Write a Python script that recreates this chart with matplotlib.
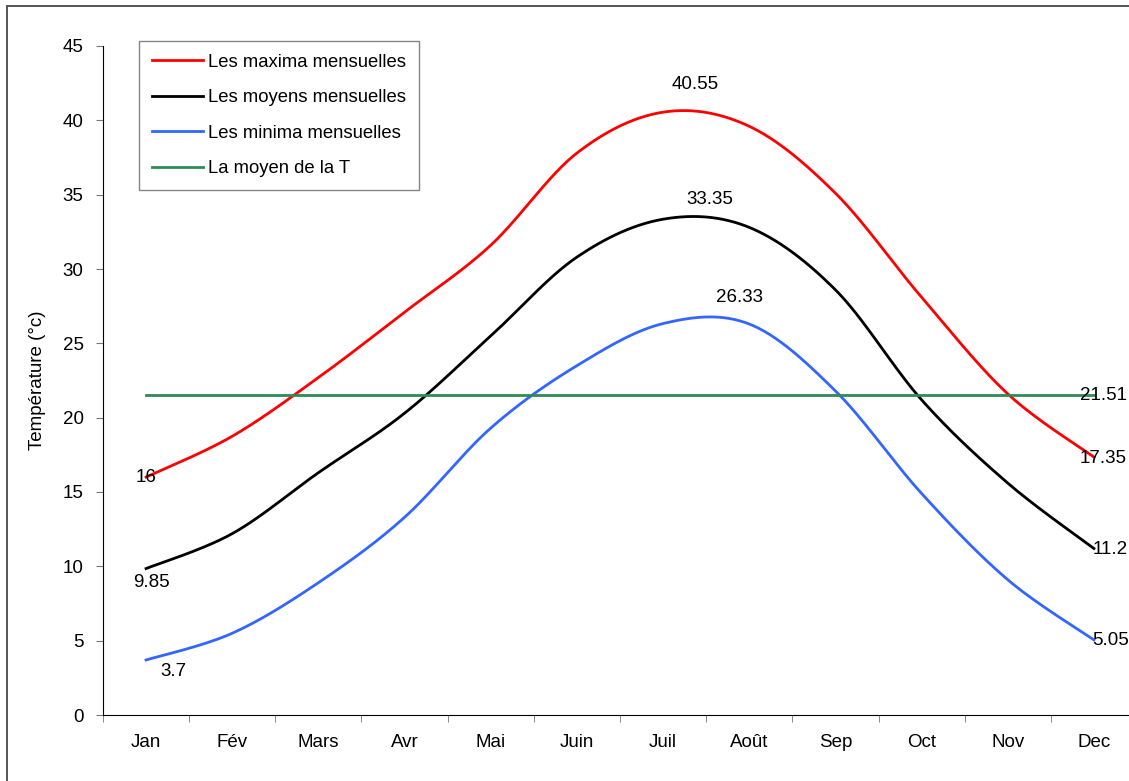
import numpy as np
import matplotlib.pyplot as plt
from matplotlib.patches import Rectangle

plt.rcParams['font.family'] = ['Liberation Sans', 'DejaVu Sans']

mois = ['Jan', 'Fév', 'Mars', 'Avr', 'Mai', 'Juin', 'Juil', 'Août', 'Sep', 'Oct', 'Nov', 'Dec']
t_max = [16, 18.75, 22.7, 27.1, 31.6, 37.8, 40.55, 39.6, 35.1, 28.1, 21.6, 17.35]
t_moy = [9.85, 12.2, 16.3, 20.3, 25.5, 30.8, 33.35, 32.8, 28.6, 21.2, 15.6, 11.2]
t_min = [3.7, 5.5, 8.9, 13.3, 19.3, 23.5, 26.33, 26.3, 21.8, 14.9, 9.1, 5.05]
t_annuelle = 21.51


def lisser(y, n=30):
    # courbe lissee facon Excel (bezier / catmull-rom)
    y = np.asarray(y, float)
    x = np.arange(len(y), dtype=float)
    px = np.concatenate([[x[0]], x, [x[-1]]])
    py = np.concatenate([[y[0]], y, [y[-1]]])
    xs, ys = [], []
    s = np.linspace(0, 1, n)
    for i in range(len(y) - 1):
        p0 = np.array([px[i + 1], py[i + 1]])
        p3 = np.array([px[i + 2], py[i + 2]])
        c1 = p0 + (np.array([px[i + 2], py[i + 2]]) - np.array([px[i], py[i]])) / 6
        c2 = p3 - (np.array([px[i + 3], py[i + 3]]) - np.array([px[i + 1], py[i + 1]])) / 6
        b = ((1 - s) ** 3)[:, None] * p0 + (3 * (1 - s) ** 2 * s)[:, None] * c1 \
            + (3 * (1 - s) * s ** 2)[:, None] * c2 + (s ** 3)[:, None] * p3
        xs.append(b[:, 0])
        ys.append(b[:, 1])
    return np.concatenate(xs), np.concatenate(ys)


fig = plt.figure(figsize=(11.29, 7.81), dpi=100)
fig.patches.append(Rectangle((7 / 1129, -0.1), 1.2, 0.1 + 775 / 781, transform=fig.transFigure,
                             fill=False, edgecolor='#555555', linewidth=1.4))
ax = fig.add_axes([103 / 1129, 66 / 781, 1034 / 1129, 669 / 781])

x = np.arange(len(mois))
xs, ys = lisser(t_max)
ax.plot(xs, ys, color='#ff0000', lw=2, label='Les maxima mensuelles')
xs, ys = lisser(t_moy)
ax.plot(xs, ys, color='black', lw=2, label='Les moyens mensuelles')
xs, ys = lisser(t_min)
ax.plot(xs, ys, color='#3366ff', lw=2, label='Les minima mensuelles')
ax.plot(x, [t_annuelle] * len(x), color='#2e8b57', lw=2, label='La moyen de la T')

ax.set_xlim(-0.5, len(mois) - 0.5)
ax.set_ylim(0, 45)
ax.set_yticks(range(0, 46, 5))
ax.set_xticks(x)
ax.set_xticklabels(mois, fontsize=13.5)
ax.set_xticks(np.arange(-0.5, len(mois), 1), minor=True)
ax.tick_params(axis='x', which='major', length=0, pad=14)
ax.tick_params(axis='x', which='minor', length=5, color='#777777')
ax.tick_params(axis='y', length=5, color='#777777', labelsize=13.5, pad=9)
ax.spines['top'].set_visible(False)
ax.spines['right'].set_visible(False)
ax.set_ylabel('Température (°c)', fontsize=13.5, labelpad=12)

# etiquettes des valeurs
fs = 13.5
ax.annotate('16', (0, t_max[0]), xytext=(0, 0), textcoords='offset pixels', ha='center', va='center', fontsize=fs)
ax.annotate('9.85', (0, t_moy[0]), xytext=(5, -14), textcoords='offset pixels', ha='center', va='center', fontsize=fs)
ax.annotate('3.7', (0, t_min[0]), xytext=(27, -12), textcoords='offset pixels', ha='center', va='center', fontsize=fs)
ax.annotate('40.55', (6, t_max[6]), xytext=(32, 28), textcoords='offset pixels', ha='center', va='center', fontsize=fs)
ax.annotate('33.35', (6, t_moy[6]), xytext=(47, 20), textcoords='offset pixels', ha='center', va='center', fontsize=fs)
ax.annotate('26.33', (6, t_min[6]), xytext=(76, 26), textcoords='offset pixels', ha='center', va='center', fontsize=fs)
ax.annotate('21.51', (11, t_annuelle), xytext=(-14, 0), textcoords='offset pixels', ha='left', va='center', fontsize=fs)
ax.annotate('17.35', (11, t_max[11]), xytext=(-14, -1), textcoords='offset pixels', ha='left', va='center', fontsize=fs)
ax.annotate('11.2', (11, t_moy[11]), xytext=(-1, -1), textcoords='offset pixels', ha='left', va='center', fontsize=fs)
ax.annotate('5.05', (11, t_min[11]), xytext=(-2, -1), textcoords='offset pixels', ha='left', va='center', fontsize=fs)

leg = ax.legend(loc='upper left', bbox_to_anchor=(36 / 1034, 1 + 5 / 669), fontsize=13.3, frameon=True,
                fancybox=False, edgecolor='#666666', handlelength=2.75, handletextpad=0.3,
                labelspacing=1.0, borderpad=0.7, borderaxespad=0)
leg.get_frame().set_linewidth(1.0)

fig.savefig('out.png', dpi=100)
